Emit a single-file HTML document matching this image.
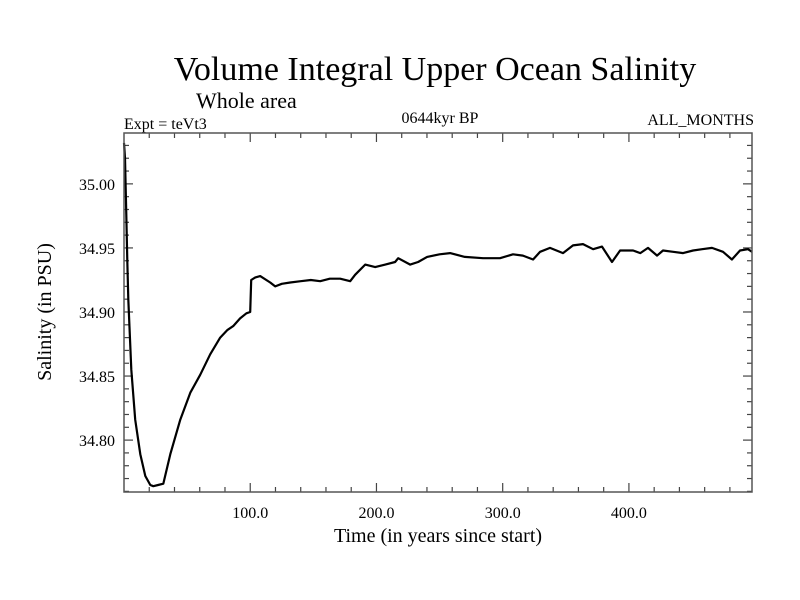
<!DOCTYPE html>
<html><head><meta charset="utf-8"><style>
body{margin:0;background:#fff;}
svg{display:block;font-family:"Liberation Serif",serif;}
</style></head><body>
<svg id="chart" width="800" height="600">
<text x="435" y="80" font-size="34" text-anchor="middle">Volume Integral Upper Ocean Salinity</text>
<text x="196" y="108" font-size="22">Whole area</text>
<text x="124" y="129" font-size="16">Expt = teVt3</text>
<text x="440" y="123" font-size="16" text-anchor="middle">0644kyr BP</text>
<text x="754" y="125" font-size="16" text-anchor="end">ALL_MONTHS</text>
<text x="438" y="542" font-size="20" text-anchor="middle">Time (in years since start)</text>
<text transform="translate(51,312) rotate(-90)" font-size="20" text-anchor="middle">Salinity (in PSU)</text>
<g id="ticks"></g>
<path id="line" fill="none" stroke="#000" stroke-width="2.2" stroke-linejoin="round"></path>
<rect x="124" y="133" width="628" height="359" fill="none" stroke="#555" stroke-width="1.5"></rect>
</svg>
<script>
const years=[0,0.8,1.8,2.6,3.4,5.8,8.9,12.9,16.9,20.8,23.2,27,31.1,36.7,44.6,52.5,60.4,68.3,76.2,82,86.5,92,97,100,100.8,104,107.9,115.8,119.8,125,131.7,140,148,155.4,163,171.3,179.2,183.1,191.1,199,207,214.8,217.2,226.7,233,240.1,250,258.3,270,284.4,297.9,308.2,316,324.1,329.6,337.5,347.8,355.7,363.6,371.6,378.7,386.6,393,403.3,409,415.1,422.3,427,435,442.9,450.8,458,465.8,474.5,481.6,488,494.3,497.5];
const salinity=[35.032,35.02,34.976,34.94,34.91,34.855,34.816,34.789,34.772,34.765,34.764,34.765,34.766,34.789,34.816,34.837,34.851,34.867,34.880,34.886,34.889,34.895,34.899,34.900,34.925,34.927,34.928,34.923,34.920,34.922,34.923,34.924,34.925,34.924,34.926,34.926,34.924,34.929,34.937,34.935,34.937,34.939,34.942,34.937,34.939,34.943,34.945,34.946,34.943,34.942,34.942,34.945,34.944,34.941,34.947,34.950,34.946,34.952,34.953,34.949,34.951,34.939,34.948,34.948,34.946,34.950,34.944,34.948,34.947,34.946,34.948,34.949,34.950,34.947,34.941,34.948,34.949,34.947];
const xTicks=[100,200,300,400];
const xTickLabels=["100.0","200.0","300.0","400.0"];
const yTicks=[34.80,34.85,34.90,34.95,35.00];
const yTickLabels=["34.80","34.85","34.90","34.95","35.00"];
const X0=124,X1=752,Y0=492,Y1=133,xmin=0,xmax=497.5,ymin=34.7595,ymax=35.0397;
const sx=v=>X0+(v-xmin)/(xmax-xmin)*(X1-X0);
const sy=v=>Y0-(v-ymin)/(ymax-ymin)*(Y0-Y1);
const NS="http://www.w3.org/2000/svg";
const g=document.getElementById('ticks');
function ln(x1,y1,x2,y2){const l=document.createElementNS(NS,'line');l.setAttribute('x1',x1);l.setAttribute('y1',y1);l.setAttribute('x2',x2);l.setAttribute('y2',y2);l.setAttribute('stroke','#444');l.setAttribute('stroke-width','1.2');


g.appendChild(l);}
for(let v=20;v<xmax;v+=20){const x=sx(v),big=(v%100===0);ln(x,Y0,x,Y0-(big?9:5));ln(x,Y1,x,Y1+(big?9:5));}
for(let k=0;;k++){const v=34.76+k*0.01;if(v>ymax)break;const y=sy(v);const big=Math.abs((v*100)%5)<0.01||Math.abs((v*100)%5-5)<0.01;ln(X0,y,X0+(big?9:5),y);ln(X1,y,X1-(big?9:5),y);}
xTicks.forEach((v,i)=>{const t=document.createElementNS(NS,'text');t.setAttribute('x',sx(v));t.setAttribute('y',Y0+26);t.setAttribute('font-size','16');t.setAttribute('text-anchor','middle');t.textContent=xTickLabels[i];


g.appendChild(t);});
yTicks.forEach((v,i)=>{const t=document.createElementNS(NS,'text');t.setAttribute('x',X0-9);t.setAttribute('y',sy(v)+6);t.setAttribute('font-size','16');t.setAttribute('text-anchor','end');t.textContent=yTickLabels[i];


g.appendChild(t);});
document.getElementById('line').setAttribute('d',years.map((v,i)=>(i?'L':'M')+sx(v).toFixed(1)+' '+sy(salinity[i]).toFixed(1)).join(' '));
</script>
</body></html>
